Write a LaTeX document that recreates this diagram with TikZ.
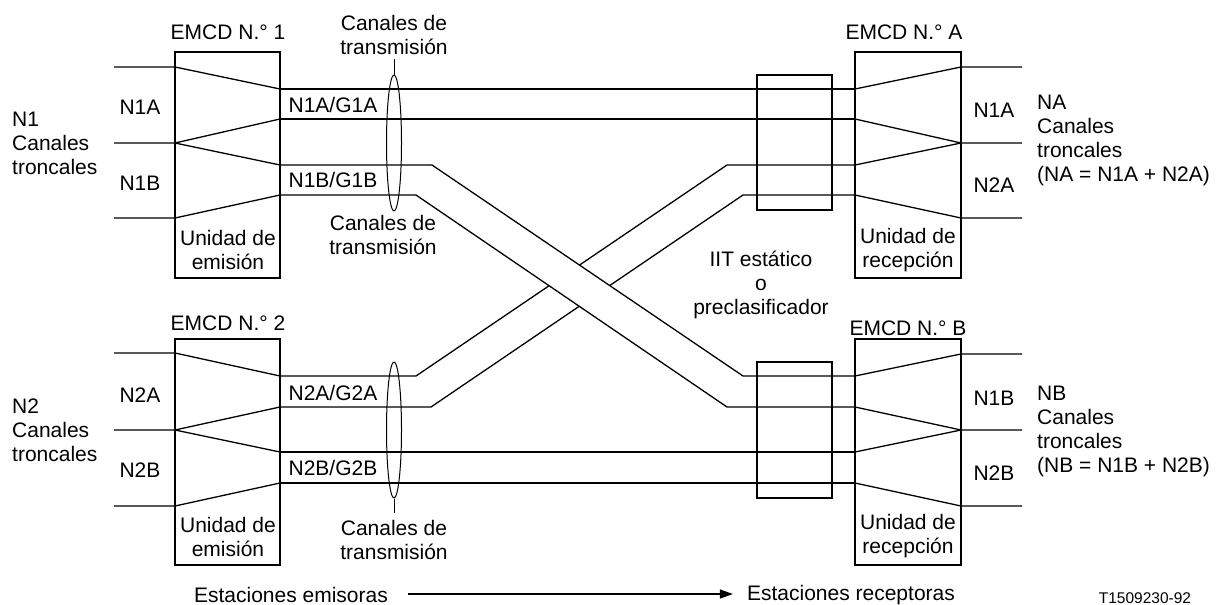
\documentclass[tikz,border=0pt]{standalone}
\usepackage{fontspec}
\setmainfont{Liberation Sans}
\usetikzlibrary{arrows.meta,shapes.geometric}
\begin{document}
\begin{tikzpicture}[x=1pt,y=-1pt,
  ln/.style={line width=1.3pt},
  unitbox/.style={draw,line width=1.3pt,inner sep=0pt},
  lbl/.style={font=\fontsize{21}{24}\selectfont,inner sep=0pt,align=center},
  lbll/.style={font=\fontsize{21}{24}\selectfont,inner sep=0pt,align=left,anchor=west},
  chan/.style={draw,ellipse,line width=1pt,minimum width=15pt,minimum height=136pt,inner sep=0pt}]
\useasboundingbox (0,0) rectangle (1221,605);
% boxes
\node[unitbox,minimum width=105pt,minimum height=226pt] (e1) at (227.5,165) {};
\node[unitbox,minimum width=105pt,minimum height=226pt] (e2) at (227.5,452) {};
\node[unitbox,minimum width=106pt,minimum height=226pt] (ea) at (908,165) {};
\node[unitbox,minimum width=106pt,minimum height=226pt] (eb) at (908,452) {};
\node[unitbox,minimum width=75pt,minimum height=135pt] (iita) at (794.5,142.5) {};
\node[unitbox,minimum width=75pt,minimum height=136pt] (iitb) at (794.5,430) {};
% coordinates: EMCD 1
\coordinate (i1a) at (114,67);  \coordinate (p1a) at (175,67);
\coordinate (i1b) at (114,143); \coordinate (p1b) at (175,143);
\coordinate (i1c) at (114,218); \coordinate (p1c) at (175,218);
\coordinate (q1a) at (280,89);  \coordinate (q1b) at (280,119);
\coordinate (q1c) at (280,165); \coordinate (q1d) at (280,195);
% EMCD 2
\coordinate (i2a) at (114,353); \coordinate (p2a) at (175,353);
\coordinate (i2b) at (114,430); \coordinate (p2b) at (175,430);
\coordinate (i2c) at (114,506); \coordinate (p2c) at (175,506);
\coordinate (q2a) at (280,376); \coordinate (q2b) at (280,407);
\coordinate (q2c) at (280,452); \coordinate (q2d) at (280,483);
% EMCD A
\coordinate (ra1) at (855,89);  \coordinate (ra2) at (855,119);
\coordinate (ra3) at (855,165); \coordinate (ra4) at (855,195);
\coordinate (sa1) at (961,67);  \coordinate (ta1) at (1022,67);
\coordinate (sa2) at (961,143); \coordinate (ta2) at (1022,143);
\coordinate (sa3) at (961,218); \coordinate (ta3) at (1022,218);
% EMCD B
\coordinate (rb1) at (855,376); \coordinate (rb2) at (855,407);
\coordinate (rb3) at (855,452); \coordinate (rb4) at (855,483);
\coordinate (sb1) at (961,354); \coordinate (tb1) at (1022,354);
\coordinate (sb2) at (961,430); \coordinate (tb2) at (1022,430);
\coordinate (sb3) at (961,506); \coordinate (tb3) at (1022,506);
% crossing corners
\coordinate (c3a) at (432,165); \coordinate (c3b) at (743,376);
\coordinate (c4a) at (416,195); \coordinate (c4b) at (727,407);
\coordinate (d1a) at (416,376); \coordinate (d1b) at (727,165);
\coordinate (d2a) at (431,407); \coordinate (d2b) at (743,195);
% fan lines EMCD 1
\draw[ln] (i1a) -- (p1a) -- (q1a);
\draw[ln] (i1b) -- (p1b) -- (q1b);
\draw[ln] (p1b) -- (q1c);
\draw[ln] (i1c) -- (p1c) -- (q1d);
% fan lines EMCD 2
\draw[ln] (i2a) -- (p2a) -- (q2a);
\draw[ln] (i2b) -- (p2b) -- (q2b);
\draw[ln] (p2b) -- (q2c);
\draw[ln] (i2c) -- (p2c) -- (q2d);
% straight channels
\draw[ln] (q1a) -- (ra1);
\draw[ln] (q1b) -- (ra2);
\draw[ln] (q2c) -- (rb3);
\draw[ln] (q2d) -- (rb4);
% N2A band (under)
\draw[ln] (q2a) -- (d1a) -- (d1b) -- (ra3);
\draw[ln] (q2b) -- (d2a) -- (d2b) -- (ra4);
% N1B band (over)
\fill[white] (c3a) -- (c3b) -- (c4b) -- (c4a) -- cycle;
\draw[ln] (q1c) -- (c3a) -- (c3b) -- (rb1);
\draw[ln] (q1d) -- (c4a) -- (c4b) -- (rb2);
% EMCD A fan
\draw[ln] (ra1) -- (sa1) -- (ta1);
\draw[ln] (ra2) -- (sa2) -- (ta2);
\draw[ln] (ra3) -- (sa2);
\draw[ln] (ra4) -- (sa3) -- (ta3);
% EMCD B fan
\draw[ln] (rb1) -- (sb1) -- (tb1);
\draw[ln] (rb2) -- (sb2) -- (tb2);
\draw[ln] (rb3) -- (sb2);
\draw[ln] (rb4) -- (sb3) -- (tb3);
% channel ellipses
\node[chan] (el1) at (394,143) {};
\node[chan] (el2) at (394,430) {};
\coordinate (tk1) at (394,59);
\coordinate (tk2) at (394,513);
\draw[line width=1pt] (el1.north) -- (tk1);
\draw[line width=1pt] (el2.south) -- (tk2);
% labels
\node[lbl] (t1) at (228,32) {EMCD N.° 1};
\node[lbl] (t2) at (228,323) {EMCD N.° 2};
\node[lbl] (ta) at (904,32) {EMCD N.° A};
\node[lbl] (tb) at (908,328) {EMCD N.° B};
\node[lbl] at (140,107) {N1A};
\node[lbl] at (140,183) {N1B};
\node[lbl] at (140,395) {N2A};
\node[lbl] at (140,470) {N2B};
\node[lbl] at (333,105) {N1A/G1A};
\node[lbl] at (333,180) {N1B/G1B};
\node[lbl] at (333,393) {N2A/G2A};
\node[lbl] at (333,468) {N2B/G2B};
\node[lbl] at (994,110) {N1A};
\node[lbl] at (994,185) {N2A};
\node[lbl] at (994,398) {N1B};
\node[lbl] at (994,473) {N2B};
\node[lbll] at (12,143) {N1\\Canales\\troncales};
\node[lbll] at (12,430) {N2\\Canales\\troncales};
\node[lbll] at (1037,140) {NA\\Canales\\troncales\\(NA = N1A + N2A)};
\node[lbll] at (1037,431) {NB\\Canales\\troncales\\(NB = N1B + N2B)};
\node[lbl] at (228,250) {Unidad de\\emisión};
\node[lbl] at (228,537) {Unidad de\\emisión};
\node[lbl] at (908,250) {Unidad de\\recepción};
\node[lbl] at (908,536) {Unidad de\\recepción};
\node[lbl] (iit) at (761,285) {IIT estático\\o\\preclasificador};
\node[lbl] (ct1) at (394,35) {Canales de\\transmisión};
\node[lbl] (ct2) at (383,235) {Canales de\\transmisión};
\node[lbl] (ct3) at (394,540) {Canales de\\transmisión};
\node[lbl] (se) at (291,595) {Estaciones emisoras};
\node[lbl] (sr) at (851,595) {Estaciones receptoras};
\draw[line width=1.3pt,-{Triangle[length=13pt,width=9pt]}] (se.east)+(20,-1) -- ([xshift=-14pt,yshift=1pt]sr.west);
\node[font=\fontsize{15.5}{18}\selectfont,inner sep=0pt] at (1145,598) {T1509230-92};
\end{tikzpicture}
\end{document}
